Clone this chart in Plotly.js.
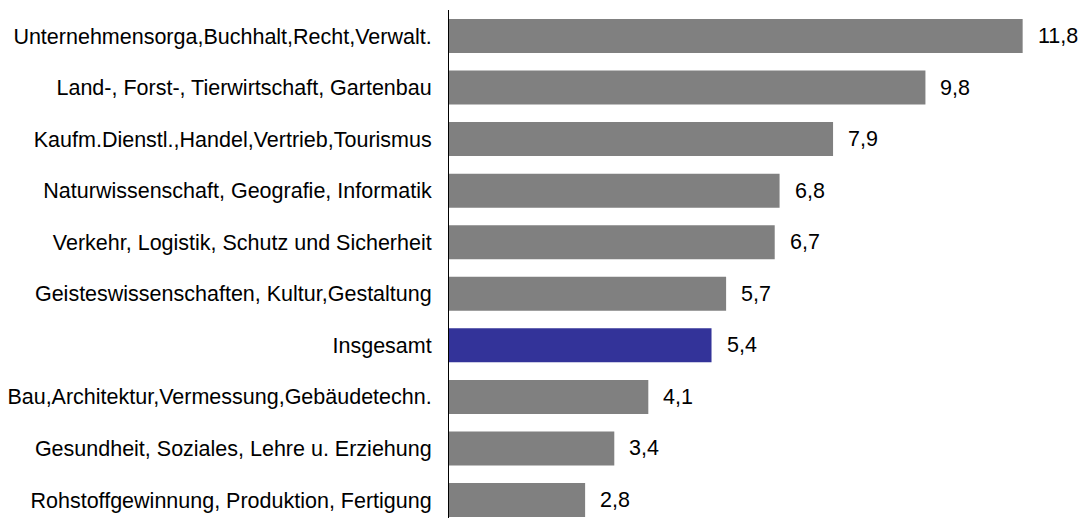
<!DOCTYPE html>
<html><head><meta charset="utf-8">
<script src="https://cdn.plot.ly/plotly-3.0.1.min.js"></script>
<style>body{margin:0;padding:0;background:#fff}#chart{width:1085px;height:518px}</style>
</head><body><div id="chart"></div>
<script>
const categories = [
  "Rohstoffgewinnung, Produktion, Fertigung",
  "Gesundheit, Soziales, Lehre u. Erziehung",
  "Bau,Architektur,Vermessung,Gebäudetechn.",
  "Insgesamt",
  "Geisteswissenschaften, Kultur,Gestaltung",
  "Verkehr, Logistik, Schutz und Sicherheit",
  "Naturwissenschaft, Geografie, Informatik",
  "Kaufm.Dienstl.,Handel,Vertrieb,Tourismus",
  "Land-, Forst-, Tierwirtschaft, Gartenbau",
  "Unternehmensorga,Buchhalt,Recht,Verwalt."
];
const values = [2.8, 3.4, 4.1, 5.4, 5.7, 6.7, 6.8, 7.9, 9.8, 11.8];
const highlight = "Insgesamt";

const colors = categories.map(c => c === highlight ? "#333399" : "#808080");
const labels = values.map(v => v.toFixed(1).replace(".", ","));

const trace = {
  type: "bar", orientation: "h",
  y: categories, x: values,
  marker: {color: colors, line: {width: 0}},
  hoverinfo: "none"
};
const annotations = values.map((v, i) => ({
  x: v, y: categories[i], xref: "x", yref: "y",
  text: labels[i], showarrow: false, xanchor: "left", xshift: 13,
  font: {family: "Liberation Sans, Arial, sans-serif", size: 21.5, color: "#000"}
}));
const layout = {
  width: 1085, height: 518,
  margin: {l: 449, r: 4, t: 10, b: 0},
  paper_bgcolor: "#fff", plot_bgcolor: "#fff",
  bargap: 0.34,
  showlegend: false,
  font: {family: "Liberation Sans, Arial, sans-serif", size: 21.5, color: "#000"},
  xaxis: {range: [0, 13], visible: false, fixedrange: true},
  yaxis: {
    type: "category", range: [-0.349, 9.504],
    showline: true, linecolor: "#000", linewidth: 1,
    showgrid: false, zeroline: false, ticks: "", ticklabelstandoff: 12,
    tickfont: {size: 21.5, color: "#000"}
  },
  annotations: annotations
};
Plotly.newPlot("chart", [trace], layout, {staticPlot: true, displayModeBar: false});
</script></body></html>
